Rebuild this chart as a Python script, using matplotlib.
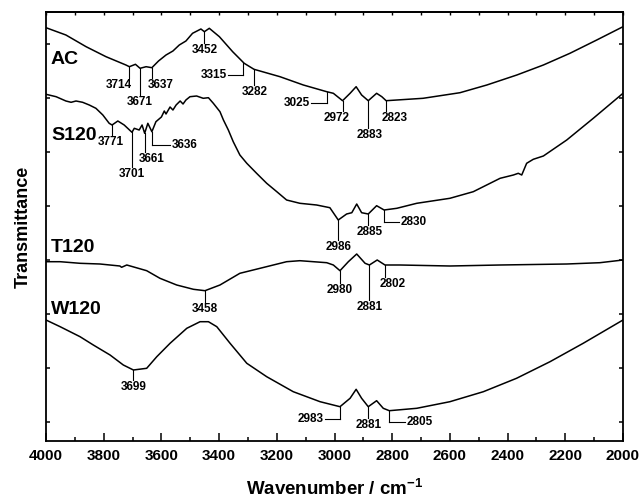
import numpy as np
import matplotlib
matplotlib.use("Agg")
import matplotlib.pyplot as plt

plt.rcParams['font.family'] = ['Liberation Sans', 'DejaVu Sans']
plt.rcParams['font.weight'] = 'bold'
plt.rcParams['mathtext.fontset'] = 'custom'
plt.rcParams['mathtext.rm'] = 'Liberation Sans:bold'
plt.rcParams['mathtext.bf'] = 'Liberation Sans:bold'
plt.rcParams['mathtext.default'] = 'bf'

# ---- data (wavenumber / cm-1, transmittance in arbitrary offset units) ----
ac_wn = [4000, 3931, 3861, 3792, 3723, 3711, 3690, 3674, 3653, 3633, 3610, 3584, 3560, 3538, 3515,
         3492, 3463, 3451, 3434, 3399, 3353, 3313, 3279, 3189, 3108, 3027, 3004, 2972, 2946,
         2925, 2906, 2883, 2854, 2836, 2821, 2693, 2565, 2472, 2368, 2276, 2184, 2091, 2000]
ac_t = [413.3, 406, 394.3, 384.3, 376, 374.3, 376.7, 372.7, 374.3, 373.3, 380, 386, 390, 396, 400,
        407.7, 412, 409.3, 412.7, 404.3, 389.3, 377.7, 371.7, 364.3, 356, 349.3, 347.7, 340.3, 347.7,
        354.3, 346, 340.3, 347.7, 344.3, 340.3, 342.7, 348.3, 356, 366, 376, 387.7, 401, 414.3]

s120_wn = [4000, 3965, 3931, 3913, 3896, 3873, 3850, 3827, 3803, 3781, 3771, 3751, 3729, 3702,
           3694, 3677, 3667, 3658, 3647, 3633, 3619, 3600, 3590, 3584, 3570, 3560, 3549, 3535, 3525,
           3515, 3501, 3478, 3455, 3437, 3420, 3397, 3385, 3368, 3351, 3328, 3304, 3270, 3235,
           3200, 3166, 3120, 3062, 3016, 2987, 2958, 2940, 2923, 2906, 2883, 2854, 2828, 2784,
           2715, 2600, 2519, 2426, 2380, 2363, 2351, 2334, 2311, 2276, 2195, 2103, 2000]
s120_t = [346.7, 344.3, 340, 338.7, 340, 338.7, 336, 332.7, 326, 317.7, 316, 320, 316, 308.7,
          312.7, 311, 316, 307.7, 317.7, 309.3, 319.3, 324, 330, 327, 334, 331, 336, 340, 337,
          341, 344.3, 345, 342.7, 343.3, 337.7, 329.3, 321, 311, 299.3, 286, 277.7, 267.7, 257.7,
          249.3, 241, 237.7, 236, 233.3, 221, 227, 228.3, 237, 228.3, 227, 235.3, 231, 232.7,
          237.7, 242.7, 249.3, 262.7, 266, 267.7, 266, 277.7, 281.7, 285, 301, 322.7, 347.7]

t120_wn = [4000, 3951, 3882, 3813, 3744, 3738, 3720, 3651, 3605, 3547, 3489, 3449, 3397, 3328,
           3258, 3166, 3120, 3027, 3004, 2981, 2952, 2923, 2894, 2879, 2852, 2825, 2773, 2600,
           2426, 2195, 2080, 2000]
t120_t = [179.3, 179.3, 177.7, 177, 175, 173.7, 176, 170.3, 162.7, 156, 151.7, 150.3, 156, 167.7,
          172.7, 179.3, 180.3, 178.3, 176, 170.3, 179.3, 187, 177.7, 176, 181, 176, 176, 175,
          176, 177, 178.3, 181]

w120_wn = [4000, 3951, 3882, 3836, 3778, 3732, 3697, 3651, 3616, 3570, 3512, 3466, 3437, 3408,
           3362, 3304, 3235, 3143, 3050, 2981, 2946, 2925, 2906, 2883, 2854, 2831, 2810, 2715,
           2600, 2484, 2369, 2253, 2138, 2000]
w120_t = [121, 114.3, 104.3, 96, 86, 76, 71, 72.7, 84.3, 97.7, 112.7, 119.3, 119.3, 114.3,
          97.7, 77.7, 64.3, 49.3, 39.3, 34.3, 42.7, 51.7, 42.7, 34.3, 40.3, 32.7, 30.3, 32.7,
          39.3, 49.3, 62.7, 79.3, 97.7, 121]

sample_names = ['AC', 'S120', 'T120', 'W120']
sample_label_t = [381, 306, 194, 131]

# peak annotations: text, marker wn, curve T, line-end T, label wn, style
peak_text = ['3452', '3714', '3671', '3637', '3315', '3282', '3025', '2972', '2883', '2823',
             '3771', '3701', '3661', '3636', '2986', '2885', '2830',
             '3458', '2980', '2881', '2802',
             '3699', '2983', '2881', '2805']
peak_wn = [3451, 3711, 3674, 3633, 3316, 3279, 3027, 2972, 2883, 2821,
           3771, 3702, 3658, 3633, 2987, 2883, 2828,
           3449, 2981, 2879, 2825,
           3697, 2981, 2883, 2810]
peak_top = [409.3, 374.3, 372.7, 373.3, 377.7, 371.7, 349.3, 340.3, 340.3, 340.3,
            316, 308.7, 307.7, 309.3, 221, 227, 231,
            150.3, 170.3, 176, 176,
            71, 34.3, 34.3, 30.3]
peak_end = [397.7, 362.7, 346, 362.7, 366, 356, 338.3, 330.3, 312.7, 330.3,
            306, 274.3, 289.3, 296, 201, 216, 219.3,
            139.3, 158.3, 141, 164.3,
            61, 21.7, 23, 19.3]
peak_label_wn = [3449, 3748, 3674, 3601, 3368, 3277, 3081, 2993, 2877, 2793,
                 3775, 3702, 3633, 3570, 2987, 2877, 2775,
                 3449, 2981, 2879, 2798,
                 3697, 3033, 2883, 2756]
peak_style = ['v', 'v', 'v', 'v', 'L', 'v', 'L', 'v', 'v', 'v',
              'v', 'v', 'v', 'R', 'v', 'v', 'R',
              'v', 'v', 'v', 'v',
              'v', 'L', 'v', 'R']

# ---- figure ----
fig = plt.figure(figsize=(6.44, 5.04), dpi=100)
ax = fig.add_axes([46 / 644, 63 / 504, 577 / 644, 429 / 504])

lw = 1.1
for wn, t in [(ac_wn, ac_t), (s120_wn, s120_t), (t120_wn, t120_t), (w120_wn, w120_t)]:
    ax.plot(wn, t, color='black', lw=lw)

for name, ty in zip(sample_names, sample_label_t):
    ax.text(3983, ty, name, fontsize=14, fontweight='bold', ha='left', va='center')

pfs = 8.5
for txt, x, top, end, lx, st in zip(peak_text, peak_wn, peak_top, peak_end, peak_label_wn, peak_style):
    ax.plot([x, x], [top, end], color='black', lw=0.8)
    if st == 'v':
        ax.text(lx, end - 1.0, txt, fontsize=pfs, fontweight='bold', ha='center', va='top')
    elif st == 'L':
        ax.plot([x, lx], [end, end], color='black', lw=0.8)
        ax.text(lx + 5, end, txt, fontsize=pfs, fontweight='bold', ha='right', va='center')
    else:
        ax.plot([x, lx], [end, end], color='black', lw=0.8)
        ax.text(lx - 5, end, txt, fontsize=pfs, fontweight='bold', ha='left', va='center')

ax.set_xlim(4000, 2000)
ax.set_ylim(0, 429)
ax.set_xticks(np.arange(2000, 4001, 200))
ax.set_xticks(np.arange(2000, 4001, 100), minor=True)
ax.set_yticks(np.arange(19, 429, 54))
ax.set_yticklabels([])
ax.tick_params(axis='x', which='major', direction='in', length=5.5, width=1.1, labelsize=11, pad=6)
ax.tick_params(axis='x', which='minor', direction='in', length=2.8, width=1.1)
ax.tick_params(axis='y', which='major', direction='in', length=2.8, width=1.1, left=True, right=True)
for lab in ax.get_xticklabels():
    lab.set_fontweight('bold')

sec = ax.secondary_xaxis('top')
sec.set_xticks(np.arange(2000, 4001, 100))
sec.set_xticklabels([''] * len(np.arange(2000, 4001, 100)))
sec.tick_params(direction='in', length=2.5, width=1.0)
sec.spines['top'].set_linewidth(1.3)

for sp in ax.spines.values():
    sp.set_linewidth(1.3)

ax.set_xlabel('Wavenumber / cm$^{-1}$', fontsize=13.5, fontweight='bold', labelpad=11)
ax.set_ylabel('Transmittance', fontsize=13, fontweight='bold', labelpad=7)

fig.savefig('out.png', dpi=100)
